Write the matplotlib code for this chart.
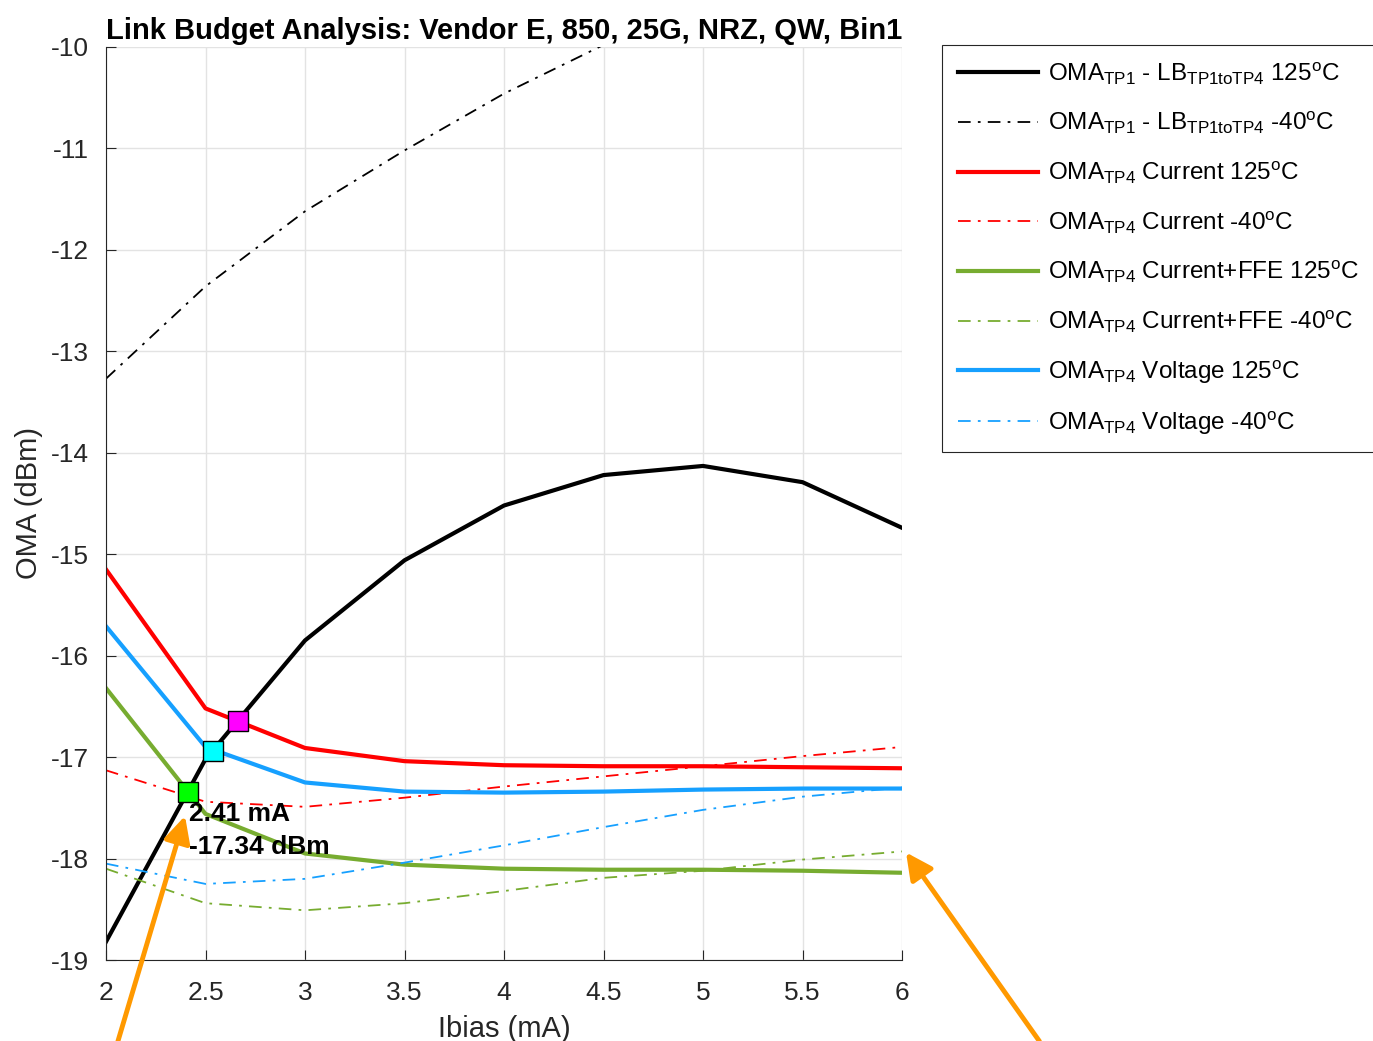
import numpy as np
import matplotlib
matplotlib.use("Agg")
import matplotlib.pyplot as plt

plt.rcParams['font.family'] = ['Liberation Sans', 'DejaVu Sans']
plt.rcParams['mathtext.fontset'] = 'custom'
plt.rcParams['mathtext.rm'] = 'Liberation Sans'
plt.rcParams['mathtext.it'] = 'Liberation Sans:italic'
plt.rcParams['mathtext.bf'] = 'Liberation Sans:bold'
plt.rcParams['axes.unicode_minus'] = False

# Ibias (mA)
ibias = [2, 2.5, 3, 3.5, 4, 4.5, 5, 5.5, 6]

# OMA (dBm)
lb_125 = [-18.82, -17.02, -15.85, -15.06, -14.52, -14.22, -14.13, -14.29, -14.74]
lb_m40 = [-13.27, -12.36, -11.62, -11.02, -10.46, -9.98, -9.50, -9.05, -8.60]
cur_125 = [-15.15, -16.52, -16.91, -17.04, -17.08, -17.09, -17.09, -17.10, -17.11]
cur_m40 = [-17.13, -17.44, -17.49, -17.40, -17.29, -17.19, -17.09, -16.99, -16.90]
ffe_125 = [-16.32, -17.56, -17.95, -18.06, -18.10, -18.11, -18.11, -18.12, -18.14]
ffe_m40 = [-18.10, -18.44, -18.51, -18.44, -18.32, -18.19, -18.12, -18.01, -17.93]
volt_125 = [-15.71, -16.90, -17.25, -17.34, -17.35, -17.34, -17.32, -17.31, -17.31]
volt_m40 = [-18.05, -18.25, -18.20, -18.04, -17.87, -17.69, -17.52, -17.39, -17.30]

# points d'intersection
cross_x = [2.41, 2.54, 2.663]
cross_y = [-17.34, -16.94, -16.64]
cross_colors = ['#00ff00', '#00ffff', '#ff00ff']

# flèches (queue -> pointe)
arrow_tails = [(2.06, -19.80), (6.69, -19.80)]
arrow_tips = [(2.397, -17.58), (6.02, -17.94)]

RED = '#ff0000'
GREEN = '#77ac30'
BLUE = '#16a0ff'
DASHDOT = (0, (7, 4, 1.5, 4))

fig = plt.figure(figsize=(13.73, 10.41), dpi=100)
ax = fig.add_axes([0.0772, 0.0778, 0.5798, 0.8771])

ax.plot(ibias, lb_125, color='k', lw=3,
        label=r'OMA$_{\mathrm{TP1}}$ - LB$_{\mathrm{TP1toTP4}}$ 125$^{\mathrm{o}}$C')
ax.plot(ibias, lb_m40, color='k', lw=1.3, linestyle=DASHDOT,
        label=r'OMA$_{\mathrm{TP1}}$ - LB$_{\mathrm{TP1toTP4}}$ -40$^{\mathrm{o}}$C')
ax.plot(ibias, cur_125, color=RED, lw=3,
        label=r'OMA$_{\mathrm{TP4}}$ Current 125$^{\mathrm{o}}$C')
ax.plot(ibias, cur_m40, color=RED, lw=1.3, linestyle=DASHDOT,
        label=r'OMA$_{\mathrm{TP4}}$ Current -40$^{\mathrm{o}}$C')
ax.plot(ibias, ffe_125, color=GREEN, lw=3,
        label=r'OMA$_{\mathrm{TP4}}$ Current+FFE 125$^{\mathrm{o}}$C')
ax.plot(ibias, ffe_m40, color=GREEN, lw=1.3, linestyle=DASHDOT,
        label=r'OMA$_{\mathrm{TP4}}$ Current+FFE -40$^{\mathrm{o}}$C')
ax.plot(ibias, volt_125, color=BLUE, lw=3,
        label=r'OMA$_{\mathrm{TP4}}$ Voltage 125$^{\mathrm{o}}$C')
ax.plot(ibias, volt_m40, color=BLUE, lw=1.3, linestyle=DASHDOT,
        label=r'OMA$_{\mathrm{TP4}}$ Voltage -40$^{\mathrm{o}}$C')

for cx, cy, cc in zip(cross_x, cross_y, cross_colors):
    ax.plot(cx, cy, marker='s', markersize=14, markerfacecolor=cc,
            markeredgecolor='k', markeredgewidth=1, zorder=5)

ax.text(cross_x[0] + 0.005, cross_y[0] - 0.1,
        f'{cross_x[0]:.2f} mA\n{cross_y[0]:.2f} dBm',
        fontsize=19, fontweight='bold', ha='left', va='top',
        linespacing=1.5, zorder=6)

for tail, tip in zip(arrow_tails, arrow_tips):
    ax.annotate('', xy=tip, xytext=tail, annotation_clip=False,
                arrowprops=dict(arrowstyle='-|>', color='#ff9900', lw=3.5,
                                mutation_scale=40, shrinkA=0, shrinkB=0))

ax.set_xlim(2, 6)
ax.set_ylim(-19, -10)
ax.set_xticks(np.arange(2, 6.01, 0.5))
ax.set_xticklabels(['2', '2.5', '3', '3.5', '4', '4.5', '5', '5.5', '6'])
ax.set_yticks(np.arange(-19, -9.99, 1))
ax.grid(True, color='#e3e3e3', lw=1)
ax.set_axisbelow(True)
for side in ['top', 'right']:
    ax.spines[side].set_visible(False)
for side in ['left', 'bottom']:
    ax.spines[side].set_color('#262626')
ax.tick_params(direction='in', length=7, labelsize=19, colors='#262626')
ax.tick_params(axis='x', pad=15)
ax.tick_params(axis='y', pad=12)

ax.set_xlabel('Ibias (mA)', fontsize=21, color='#262626', labelpad=7)
ax.set_ylabel('OMA (dBm)', fontsize=21, color='#262626', labelpad=6)
ax.set_title('Link Budget Analysis: Vendor E, 850, 25G, NRZ, QW, Bin1',
             fontsize=21, fontweight='bold', pad=6)

leg = fig.legend(loc='upper left', bbox_to_anchor=(0.686, 0.957), fontsize=17.5,
                 handlelength=3.3, labelspacing=0.97, fancybox=False,
                 edgecolor='#262626', framealpha=1, borderpad=0.65,
                 borderaxespad=0, handletextpad=0.4)
leg.get_frame().set_linewidth(0.8)

fig.savefig('out.png', dpi=100)
